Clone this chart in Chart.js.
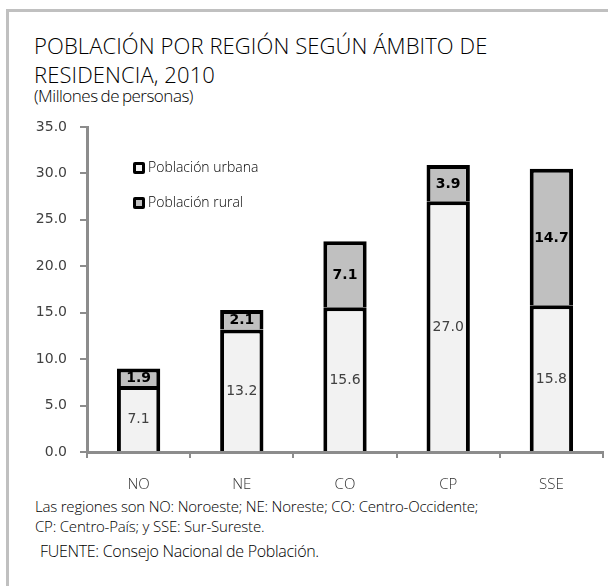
<!DOCTYPE html>
<html>
<head>
<meta charset="utf-8">
<script src="https://cdn.jsdelivr.net/npm/chart.js@4/dist/chart.umd.min.js"></script>
<style>
  body { margin: 0; background: #fff; }
  #wrap { position: relative; width: 608px; height: 586px; overflow: hidden; font-family: "Open Sans", sans-serif; color: #1a1a1a; }
  #frame { position: absolute; left: 6px; top: 9px; width: 800px; height: 800px; border-top: 3px solid #c0c0c0; border-left: 3px solid #c0c0c0; }
  #title { position: absolute; left: 34px; top: 31px; font-size: 22px; font-weight: 300; line-height: 29px; letter-spacing: 0.1px; white-space: nowrap; color: #000; }
  #sub { position: absolute; left: 34px; top: 85px; font-size: 17px; font-weight: 300; line-height: 21px; letter-spacing: -0.5px; word-spacing: -1px; color: #000; }
  .note { position: absolute; left: 35px; font-size: 15px; font-weight: 300; line-height: 18px; letter-spacing: -0.2px; white-space: nowrap; color: #000; }
  canvas { position: absolute; left: 0; top: 0; }
</style>
</head>
<body>
<div id="wrap">
  <div id="frame"></div>
  <div id="title">POBLACIÓN POR REGIÓN SEGÚN ÁMBITO DE<br>RESIDENCIA, 2010</div>
  <div id="sub">(Millones de personas)</div>
  <div class="note" style="top:497px">Las regiones son NO: Noroeste; NE: Noreste; CO: Centro-Occidente;</div>
  <div class="note" style="top:517px">CP: Centro-País; y SSE: Sur-Sureste.</div>
  <div class="note" style="top:542px; left:40px; font-size:16px; letter-spacing:-0.3px">FUENTE: Consejo Nacional de Población.</div>
  <canvas id="chart" width="608" height="586"></canvas>
</div>
<script>
// regiones y valores (millones de personas)
var regiones = ["NO", "NE", "CO", "CP", "SSE"];
var urbana = [7.1, 13.2, 15.6, 27.0, 15.8];
var rural = [1.9, 2.1, 7.1, 3.9, 14.7];
var yTicks = [0, 5, 10, 15, 20, 25, 30, 35];

// etiquetas de valor dentro de cada segmento
const segLabels = {
  id: "segLabels",
  afterDatasetsDraw(chart) {
    const ctx = chart.ctx;
    ctx.save();
    ctx.textAlign = "center";
    ctx.textBaseline = "middle";
    chart.data.datasets.forEach((ds, i) => {
      const meta = chart.getDatasetMeta(i);
      ctx.font = (i === 1 ? "bold " : "") + "14px 'DejaVu Sans'";
      ctx.fillStyle = i === 1 ? "#000" : "#404040";
      meta.data.forEach((bar, j) => {
        const p = bar.getProps(["x", "y", "base"], true);
        ctx.fillText(ds.data[j].toFixed(1), p.x, (p.y + p.base) / 2 + 1);
      });
    });
    ctx.restore();
  },
};

// leyenda dentro del area del grafico
const legendBox = {
  id: "legendBox",
  afterDraw(chart) {
    const ctx = chart.ctx;
    ctx.save();
    ctx.font = "300 14px 'Open Sans'";
    ctx.textBaseline = "middle";
    chart.data.datasets.forEach((ds, i) => {
      const y = 168 + i * 35;
      ctx.fillStyle = "#000";
      ctx.beginPath();
      ctx.roundRect(133, y - 6, 12, 12, 2);
      ctx.fill();
      ctx.fillStyle = ds.backgroundColor;
      ctx.fillRect(136, y - 3, 6, 6);
      ctx.fillStyle = "#000";
      ctx.fillText(ds.label, 148, y);
    });
    ctx.restore();
  },
};

const ctx = document.getElementById("chart").getContext("2d");
const chart = new Chart(ctx, {
  type: "bar",
  data: {
    labels: regiones,
    datasets: [
      {
        label: "Población urbana",
        data: urbana,
        backgroundColor: "#f2f2f2",
        borderColor: "#000",
        borderWidth: 4,
        barPercentage: 0.42,
        categoryPercentage: 1,
      },
      {
        label: "Población rural",
        data: rural,
        backgroundColor: "#c0c0c0",
        borderColor: "#000",
        borderWidth: 4,
        barPercentage: 0.42,
        categoryPercentage: 1,
      },
    ],
  },
  options: {
    responsive: false,
    animation: false,
    layout: { padding: { top: 127, right: 5, bottom: 94, left: 0 } },
    plugins: {
      legend: { display: false },
      tooltip: { enabled: false },
    },
    scales: {
      x: {
        stacked: true,
        afterFit: (s) => { s.height = 40; },
        border: { color: "#8c8c8c", width: 3 },
        grid: { drawOnChartArea: false, color: "#8c8c8c", lineWidth: 2, tickLength: 6 },
        ticks: { color: "#333", padding: 18, font: { family: "Open Sans", size: 15, weight: 300 } },
      },
      y: {
        stacked: true,
        min: 0,
        max: 35,
        afterFit: (s) => { s.width = 87; },
        afterBuildTicks: (s) => { s.ticks = yTicks.map((v) => ({ value: v })); },
        border: { color: "#8c8c8c", width: 3 },
        grid: { drawOnChartArea: false, color: "#8c8c8c", lineWidth: 2, tickLength: 7 },
        ticks: {
          color: "#404040",
          padding: 13,
          font: { family: "DejaVu Sans", size: 14 },
          callback: (v) => v.toFixed(1),
        },
      },
    },
  },
  plugins: [segLabels, legendBox],
});
</script>
</body>
</html>
